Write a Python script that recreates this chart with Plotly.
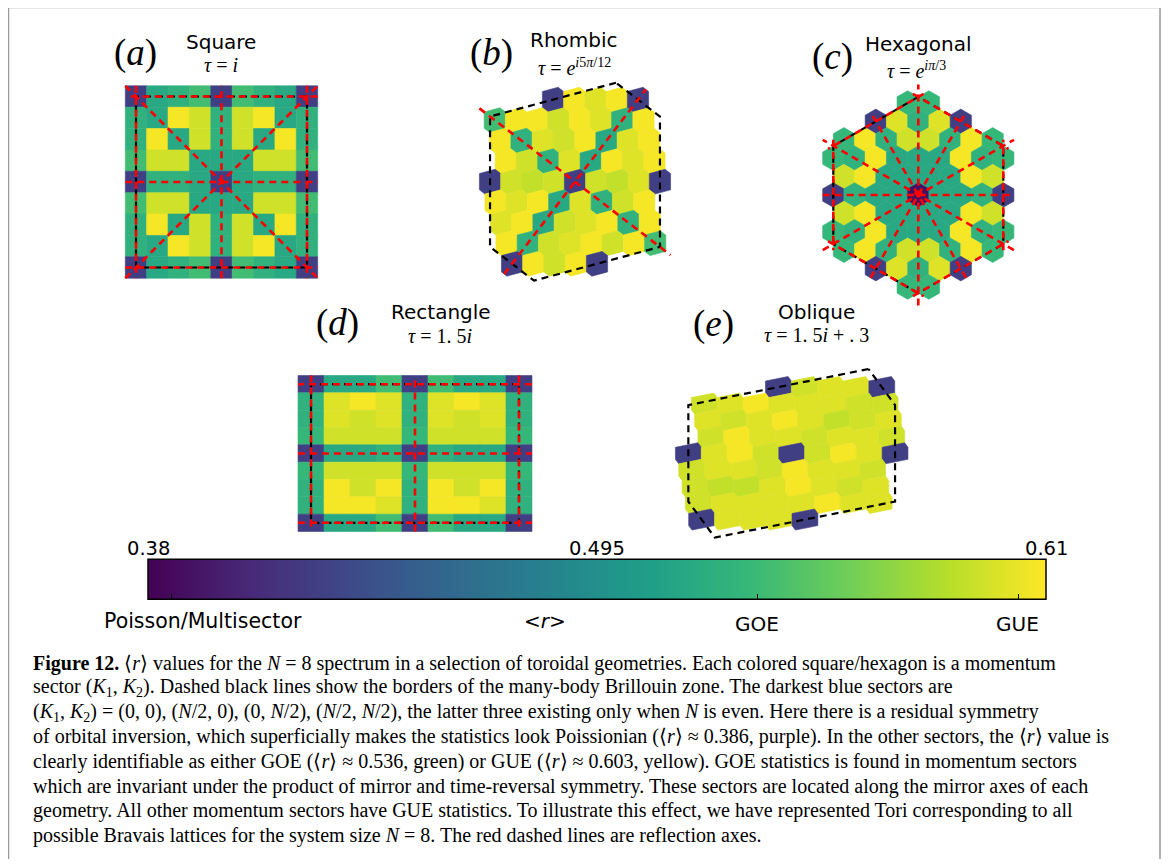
import numpy as np
import plotly.graph_objects as go
from plotly.colors import sample_colorscale

# the page puts the figure 8 px in from the top-left corner
OFF = 8
W, H = 1169 - 2 * OFF, 867 - 2 * OFF
CMIN, CMAX = 0.38, 0.61

# torus shapes, tau = a2 / a1
TAU_SQUARE = 1j
TAU_RHOMBIC = np.exp(1j * 5 * np.pi / 12)
TAU_HEX = np.exp(1j * np.pi / 3)
TAU_RECT = 1.5j
TAU_OBLIQUE = 1.5j + 0.3

# <r> per momentum sector; rows from top (largest K2) to bottom, sectors left to right
R_SQUARE = [
    [0.423, 0.518, 0.527, 0.539, 0.423, 0.539, 0.527, 0.518, 0.423],
    [0.527, 0.518, 0.607, 0.594, 0.527, 0.594, 0.607, 0.518, 0.527],
    [0.527, 0.607, 0.518, 0.594, 0.527, 0.594, 0.518, 0.607, 0.527],
    [0.539, 0.594, 0.594, 0.518, 0.518, 0.518, 0.594, 0.594, 0.539],
    [0.423, 0.527, 0.527, 0.518, 0.423, 0.518, 0.527, 0.527, 0.423],
    [0.539, 0.594, 0.594, 0.518, 0.518, 0.518, 0.594, 0.594, 0.539],
    [0.527, 0.607, 0.518, 0.594, 0.527, 0.594, 0.518, 0.607, 0.527],
    [0.527, 0.518, 0.607, 0.594, 0.527, 0.594, 0.607, 0.518, 0.527],
    [0.423, 0.518, 0.527, 0.539, 0.423, 0.539, 0.527, 0.518, 0.423],
]

R_RHOMBIC = [
    [0.423, 0.607, 0.599, 0.607, 0.423],
    [0.539, 0.607, 0.607, 0.594, 0.607, 0.599, 0.527, 0.607],
    [0.607, 0.527, 0.599, 0.594, 0.607, 0.518, 0.599, 0.607],
    [0.607, 0.594, 0.527, 0.599, 0.518, 0.607, 0.599, 0.607],
    [0.423, 0.594, 0.589, 0.594, 0.423, 0.594, 0.589, 0.599, 0.423],
    [0.607, 0.599, 0.607, 0.518, 0.599, 0.527, 0.594, 0.607],
    [0.599, 0.607, 0.518, 0.594, 0.599, 0.607, 0.527, 0.607],
    [0.607, 0.527, 0.594, 0.599, 0.607, 0.594, 0.607, 0.539],
    [0.423, 0.607, 0.594, 0.607, 0.423],
]

R_HEX = [
    [0.533, 0.533],
    [0.423, 0.599, 0.527, 0.599, 0.423],
    [0.533, 0.607, 0.527, 0.594, 0.594, 0.527, 0.607, 0.533],
    [0.533, 0.527, 0.607, 0.518, 0.518, 0.518, 0.607, 0.527, 0.533],
    [0.594, 0.607, 0.518, 0.518, 0.518, 0.518, 0.607, 0.594],
    [0.423, 0.527, 0.518, 0.518, 0.390, 0.518, 0.518, 0.527, 0.423],
    [0.594, 0.607, 0.518, 0.518, 0.518, 0.518, 0.607, 0.594],
    [0.533, 0.527, 0.607, 0.518, 0.518, 0.518, 0.607, 0.527, 0.533],
    [0.533, 0.607, 0.527, 0.594, 0.594, 0.527, 0.607, 0.533],
    [0.423, 0.599, 0.527, 0.599, 0.423],
    [0.533, 0.533],
]

R_RECT = [
    [0.423, 0.518, 0.518, 0.539, 0.423, 0.539, 0.518, 0.518, 0.423],
    [0.527, 0.599, 0.607, 0.599, 0.527, 0.599, 0.607, 0.599, 0.527],
    [0.527, 0.599, 0.594, 0.599, 0.527, 0.599, 0.594, 0.599, 0.527],
    [0.533, 0.594, 0.594, 0.594, 0.533, 0.594, 0.594, 0.594, 0.533],
    [0.423, 0.518, 0.518, 0.527, 0.423, 0.527, 0.518, 0.518, 0.423],
    [0.533, 0.594, 0.594, 0.594, 0.533, 0.594, 0.594, 0.594, 0.533],
    [0.527, 0.607, 0.594, 0.607, 0.527, 0.607, 0.594, 0.607, 0.527],
    [0.527, 0.607, 0.607, 0.599, 0.527, 0.607, 0.607, 0.599, 0.527],
    [0.423, 0.518, 0.518, 0.539, 0.423, 0.539, 0.518, 0.518, 0.423],
]

R_OBLIQUE = [
    [0.423, 0.594, 0.599, 0.599, 0.423],
    [0.594, 0.599, 0.607, 0.599, 0.599, 0.599, 0.594, 0.594],
    [0.599, 0.594, 0.599, 0.607, 0.599, 0.589, 0.594, 0.599],
    [0.594, 0.607, 0.599, 0.599, 0.594, 0.599, 0.599, 0.594],
    [0.423, 0.599, 0.607, 0.594, 0.423, 0.594, 0.607, 0.599, 0.423],
    [0.594, 0.599, 0.599, 0.594, 0.607, 0.599, 0.599, 0.594],
    [0.594, 0.589, 0.589, 0.599, 0.607, 0.599, 0.594, 0.599],
    [0.594, 0.599, 0.599, 0.599, 0.599, 0.607, 0.599, 0.599],
    [0.423, 0.599, 0.599, 0.599, 0.423],
]

CB_TOP = ["0.38", "0.495", "0.61"]
CB_TOP_VALS = [0.38, 0.495, 0.61]
CB_TICKS = [0.386, 0.536, 0.603]

CAPTION = [
    "<b>Figure 12.</b> ⟨<i>r</i>⟩ values for the <i>N</i> = 8 spectrum in a selection of toroidal geometries. Each colored square/hexagon is a momentum",
    "sector (<i>K</i><sub>1</sub>, <i>K</i><sub>2</sub>). Dashed black lines show the borders of the many-body Brillouin zone. The darkest blue sectors are",
    "(<i>K</i><sub>1</sub>, <i>K</i><sub>2</sub>) = (0, 0), (<i>N</i>/2, 0), (0, <i>N</i>/2), (<i>N</i>/2, <i>N</i>/2), the latter three existing only when <i>N</i> is even. Here there is a residual symmetry",
    "of orbital inversion, which superficially makes the statistics look Poissionian (⟨<i>r</i>⟩ ≈ 0.386, purple). In the other sectors, the ⟨<i>r</i>⟩ value is",
    "clearly identifiable as either GOE (⟨<i>r</i>⟩ ≈ 0.536, green) or GUE (⟨<i>r</i>⟩ ≈ 0.603, yellow). GOE statistics is found in momentum sectors",
    "which are invariant under the product of mirror and time-reversal symmetry. These sectors are located along the mirror axes of each",
    "geometry. All other momentum sectors have GUE statistics. To illustrate this effect, we have represented Tori corresponding to all",
    "possible Bravais lattices for the system size <i>N</i> = 8. The red dashed lines are reflection axes.",
]

N = 8


def recip(tau):
    # momentum lattice of a unit-area torus, G1 put along x
    im = tau.imag
    l1, l2 = 1 / np.sqrt(im), abs(tau) / np.sqrt(im)
    th = np.pi - np.angle(tau)
    return np.array([l2, 0.0]), l1 * np.array([np.cos(th), np.sin(th)])


def clip(poly, w, c):
    out = []
    for i in range(len(poly)):
        p, q = poly[i], poly[(i + 1) % len(poly)]
        fp, fq = p.dot(w) - c, q.dot(w) - c
        if fp <= 1e-12:
            out.append(p)
        if fp * fq < 0 and abs(fp) > 1e-12 and abs(fq) > 1e-12:
            out.append(p + fp / (fp - fq) * (q - p))
    return out


def ws_cell(u, v):
    R = 3 * (np.linalg.norm(u) + np.linalg.norm(v))
    poly = [np.array(p, float) for p in [(-R, -R), (R, -R), (R, R), (-R, R)]]
    for m in range(-2, 3):
        for n in range(-2, 3):
            if m or n:
                w = m * u + n * v
                poly = clip(poly, w, w.dot(w) / 2)
    clean = []
    for p in poly:
        if not clean or np.linalg.norm(p - clean[-1]) > 1e-7:
            clean.append(p)
    if np.linalg.norm(clean[0] - clean[-1]) < 1e-7:
        clean.pop()
    return np.array(clean)


def in_bz(k, G1, G2):
    for m in range(-2, 3):
        for n in range(-2, 3):
            if m or n:
                w = m * G1 + n * G2
                if k.dot(w) > w.dot(w) / 2 + 1e-9:
                    return False
    return True


def ray_extent(d, G1, G2):
    t = np.inf
    for m in range(-2, 3):
        for n in range(-2, 3):
            if m or n:
                w = m * G1 + n * G2
                if d.dot(w) > 1e-12:
                    t = min(t, w.dot(w) / 2 / d.dot(w))
    return t


def color_of(v):
    return sample_colorscale("Viridis", [(v - CMIN) / (CMAX - CMIN)])[0]


def px(x):
    return (x - OFF) / W


def py(y):
    return 1 - (y - OFF) / H


panels = [
    dict(tau=TAU_SQUARE, vals=R_SQUARE, cx=221.5, cy=182, s=171, hw=120, hh=115,
         axes=[(1, 0), (0, 1), (1, 1), (1, -1)], edges=[(1, 0), (0, 1)]),
    dict(tau=TAU_RHOMBIC, vals=R_RHOMBIC, cx=575, cy=181.7, s=167, hw=125, hh=118,
         axes=[(1, 1), (1, -1)], edges=[]),
    dict(tau=TAU_HEX, vals=R_HEX, cx=918.3, cy=195, s=158.2, hw=125, hh=120,
         axes=[(1, 0), (0, 1), (1, 1), (2, 1), (1, 2), (-1, 1)], edges=[(1, 0), (0, 1), (1, 1)]),
    dict(tau=TAU_RECT, vals=R_RECT, cx=415, cy=453.5, s=169.8, hw=135, hh=92,
         axes=[(1, 0), (0, 1)], edges=[(1, 0), (0, 1)]),
    dict(tau=TAU_OBLIQUE, vals=R_OBLIQUE, cx=791.7, cy=453.3, s=165.5, hw=140, hh=100,
         axes=[], edges=[]),
]

fig = go.Figure()
DASH = "7px,5px"

for i, p in enumerate(panels, start=1):
    xa, ya = ("x", "y") if i == 1 else (f"x{i}", f"y{i}")
    G1, G2 = recip(p["tau"])
    g1, g2 = G1 / N, G2 / N
    cell = ws_cell(g1, g2)
    bz = ws_cell(G1, G2)

    rows = {}
    for K2 in range(-8, 9):
        for K1 in range(-10, 11):
            k = K1 * g1 + K2 * g2
            if in_bz(k, G1, G2):
                rows.setdefault(K2, []).append(k)
    keys = sorted(rows, reverse=True)
    assert [len(rows[r]) for r in keys] == [len(v) for v in p["vals"]], \
        (i, [len(rows[r]) for r in keys])

    for K2, vals in zip(keys, p["vals"]):
        for k, v in zip(sorted(rows[K2], key=lambda q: q[0]), vals):
            c = color_of(v)
            poly = np.vstack([cell, cell[:1]]) + k
            fig.add_trace(go.Scatter(x=poly[:, 0], y=poly[:, 1], mode="lines", fill="toself",
                                     fillcolor=c, line=dict(color=c, width=0.6),
                                     hoverinfo="skip", showlegend=False, xaxis=xa, yaxis=ya))

    # Brillouin zone border
    bzc = np.vstack([bz, bz[:1]])
    fig.add_trace(go.Scatter(x=bzc[:, 0], y=bzc[:, 1], mode="lines",
                             line=dict(color="black", width=2.2, dash=DASH),
                             hoverinfo="skip", showlegend=False, xaxis=xa, yaxis=ya))

    # reflection axes through the origin
    for m, n in p["axes"]:
        d = m * G1 + n * G2
        t = 1.125 * ray_extent(d, G1, G2)
        fig.add_trace(go.Scatter(x=[-t * d[0], t * d[0]], y=[-t * d[1], t * d[1]], mode="lines",
                                 line=dict(color="red", width=2.6, dash=DASH),
                                 hoverinfo="skip", showlegend=False, xaxis=xa, yaxis=ya))
    # reflection axes lying on the zone border
    for m, n in p["edges"]:
        for sgn in (1, -1):
            w = sgn * (m * G1 + n * G2)
            on = [q for q in bz if abs(q.dot(w) - w.dot(w) / 2) < 1e-7]
            if len(on) < 2:
                continue
            a, b = on[0], on[-1]
            mid = (a + b) / 2
            a2, b2 = mid + 1.125 * (a - mid), mid + 1.125 * (b - mid)
            fig.add_trace(go.Scatter(x=[a2[0], b2[0]], y=[a2[1], b2[1]], mode="lines",
                                     line=dict(color="red", width=2.6, dash=DASH),
                                     hoverinfo="skip", showlegend=False, xaxis=xa, yaxis=ya))

    s, cx, cy, hw, hh = p["s"], p["cx"], p["cy"], p["hw"], p["hh"]
    kx = "xaxis" if i == 1 else f"xaxis{i}"
    ky = "yaxis" if i == 1 else f"yaxis{i}"
    fig.layout[kx] = dict(domain=[px(cx - hw), px(cx + hw)], range=[-hw / s, hw / s],
                          visible=False, fixedrange=True, anchor=ya)
    fig.layout[ky] = dict(domain=[py(cy + hh), py(cy - hh)], range=[-hh / s, hh / s],
                          visible=False, fixedrange=True, anchor=xa)

# colour bar
CB_X0, CB_LEN, CB_TOPY, CB_THICK = 148, 898, 562.5, 40
fig.add_trace(go.Scatter(
    x=[None], y=[None], mode="markers", showlegend=False, hoverinfo="skip",
    marker=dict(color=[CMIN], colorscale="Viridis", cmin=CMIN, cmax=CMAX, showscale=True,
                colorbar=dict(orientation="h", x=px(CB_X0 + CB_LEN / 2), xanchor="center",
                              y=py(CB_TOPY + CB_THICK / 2), yanchor="middle",
                              len=CB_LEN, lenmode="pixels", thickness=CB_THICK,
                              thicknessmode="pixels", outlinecolor="black", outlinewidth=1.5,
                              tickvals=CB_TICKS, ticks="inside", ticklen=6, tickcolor="black",
                              showticklabels=False, xpad=0, ypad=0))))


def cb_x(v):
    return CB_X0 + (v - CMIN) / (CMAX - CMIN) * CB_LEN


ann = []


def text(x, y, t, size, family, color="black", xanchor="center"):
    ann.append(dict(x=px(x), y=py(y), xref="paper", yref="paper", text=t, showarrow=False,
                    xanchor=xanchor, yanchor="middle",
                    font=dict(size=size, family=family, color=color)))


SERIF = "Liberation Serif"
SANS = "DejaVu Sans"

heads = [
    ((135, 53), "(<i>a</i>)", (221, 42), "Square", (221, 65), "<i>τ</i> = <i>i</i>"),
    ((491, 53), "(<i>b</i>)", (574, 40), "Rhombic", (574, 67), "<i>τ</i> = <i>e</i><sup><i>i</i>5<i>π</i>/12</sup>"),
    ((832, 57), "(<i>c</i>)", (918, 44), "Hexagonal", (917, 70), "<i>τ</i> = <i>e</i><sup><i>iπ</i>/3</sup>"),
    ((337, 323), "(<i>d</i>)", (441, 312), "Rectangle", (440, 336), "<i>τ</i> = 1. 5<i>i</i>"),
    ((713, 324), "(<i>e</i>)", (816, 312), "Oblique", (816, 335), "<i>τ</i> = 1. 5<i>i</i> + . 3"),
]
for lab_xy, lab, name_xy, name, tau_xy, tau in heads:
    text(*lab_xy, lab, 37, SERIF)
    text(*name_xy, name, 20, SANS)
    text(*tau_xy, tau, 20, SERIF)

for v, t in zip(CB_TOP_VALS, CB_TOP):
    text(cb_x(v), 548, t, 19.5, SANS)
text(203, 621, "Poisson/Multisector", 20.5, SANS)
text(545, 621, "&lt;<i>r</i>&gt;", 20, SANS)
text(757, 624, "GOE", 20, SANS)
text(1017, 624, "GUE", 20, SANS)

for j, line in enumerate(CAPTION):
    text(31, 663 + j * 24.6, line, 20, SERIF, xanchor="left")

fig.update_layout(
    width=W, height=H, margin=dict(l=0, r=0, t=0, b=0),
    paper_bgcolor="white", plot_bgcolor="rgba(0,0,0,0)",
    showlegend=False, annotations=ann,
    shapes=[
        dict(type="rect", xref="paper", yref="paper", x0=px(8.5), x1=px(1160),
             y0=py(861), y1=py(7.5), line=dict(color="#9a9a9a", width=1.5)),
        # the single tick on the upper edge of the colour bar
        dict(type="line", xref="paper", yref="paper", x0=px(cb_x(0.495)), x1=px(cb_x(0.495)),
             y0=py(CB_TOPY), y1=py(CB_TOPY + 6), line=dict(color="black", width=1)),
    ],
)

fig.write_html("out.html")
